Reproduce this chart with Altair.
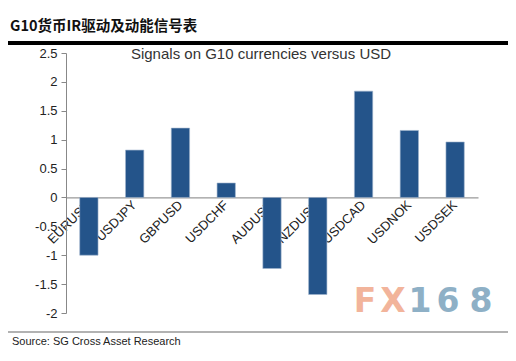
import altair as alt
import pandas as pd

pairs = ["EURUSD", "USDJPY", "GBPUSD", "USDCHF", "AUDUSD", "NZDUSD", "USDCAD", "USDNOK", "USDSEK"]
signals = [-1.0, 0.82, 1.2, 0.25, -1.23, -1.68, 1.84, 1.16, 0.96]
y_ticks = [-2, -1.5, -1, -0.5, 0, 0.5, 1, 1.5, 2, 2.5]

header = "G10货币IR驱动及动能信号表"
chart_title = "Signals on G10 currencies versus USD"
source = "Source: SG Cross Asset Research"
wm_chars = ["F", "X", "1", "6", "8"]
wm_x = [299, 327, 354, 382, 415]
wm_col = ["#F2B49B", "#F2B49B", "#8EB0C6", "#8EB0C6", "#8EB0C6"]

W, H = 412, 260
FONT = "Liberation Sans"

df = pd.DataFrame({"pair": pairs, "signal": signals})
zero_offset = -(H * 2.0 / 4.5)

bars = alt.Chart(df).mark_bar(color="#24548A", stroke="#9FB4CC", strokeWidth=0.6).encode(
    x=alt.X("pair:N", sort=pairs, title=None,
            scale=alt.Scale(paddingInner=0.6, paddingOuter=0.3),
            axis=alt.Axis(offset=zero_offset, labelAngle=315, labelAlign="right",
                          labelBaseline="middle", ticks=False, labelPadding=5,
                          domainColor="#999999", domainWidth=1.2,
                          labelFont=FONT, labelFontSize=13, labelColor="#222222")),
    y=alt.Y("signal:Q", title=None,
            scale=alt.Scale(domain=[-2, 2.5], nice=False, zero=False),
            axis=alt.Axis(values=y_ticks, labelExpr="datum.value + ''", grid=False,
                          tickSize=5, tickColor="#888888", domainColor="#888888",
                          labelPadding=4, labelFont=FONT, labelFontSize=13,
                          labelColor="#222222")),
)

def txt(s, x, y, size, color="#222222", font=FONT, weight="normal", align="left"):
    return alt.Chart(pd.DataFrame({"t": [s]})).mark_text(
        text=s, font=font, fontSize=size, color=color, fontWeight=weight,
        align=align, baseline="alphabetic"
    ).encode(x=alt.value(x), y=alt.value(y))

layers = [bars]
layers.append(txt(header, -56, -22, 14.5, "#111111", "Noto Sans CJK SC", "bold"))
layers.append(alt.Chart(pd.DataFrame({"a": [0]})).mark_rule(color="#000000", strokeWidth=4).encode(
    x=alt.value(-58), x2=alt.value(446), y=alt.value(-10)))
layers.append(txt(chart_title, 195, 6, 15, "#333333", FONT, "normal", "center"))
for c, xx, col in zip(wm_chars, wm_x, wm_col):
    layers.append(txt(c, xx, 259, 33, col, "DejaVu Sans", "bold", "center"))
layers.append(alt.Chart(pd.DataFrame({"a": [0]})).mark_rule(color="#999999", strokeWidth=1.5).encode(
    x=alt.value(-58), x2=alt.value(446), y=alt.value(279)))
layers.append(txt(source, -54, 292, 11, "#222222"))

chart = alt.layer(*layers).properties(
    width=W, height=H,
    autosize=alt.AutoSizeParams(type="none"),
    padding={"left": 58, "top": 45, "right": 30, "bottom": 40},
    background="white",
).configure_view(stroke=None)

chart.save("out.html", embed_options={"renderer": "svg", "actions": False})
